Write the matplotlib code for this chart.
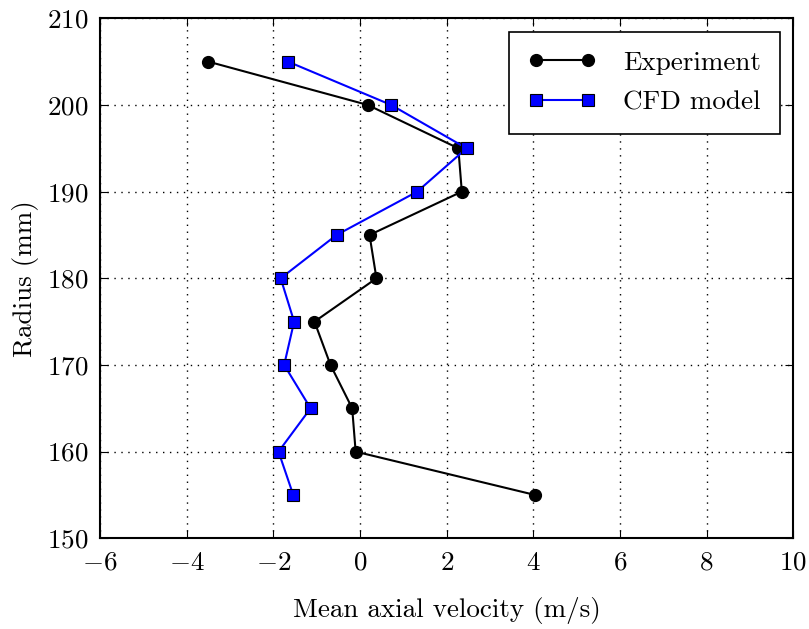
import matplotlib
matplotlib.use("Agg")
import matplotlib.pyplot as plt

plt.rcParams['font.family'] = 'cmr10'
plt.rcParams['mathtext.fontset'] = 'cm'
plt.rcParams['axes.formatter.use_mathtext'] = True

radius = [205, 200, 195, 190, 185, 180, 175, 170, 165, 160, 155]
vel_exp = [-3.5, 0.18, 2.27, 2.35, 0.22, 0.38, -1.05, -0.68, -0.18, -0.1, 4.04]
vel_cfd = [-1.66, 0.72, 2.46, 1.32, -0.54, -1.83, -1.52, -1.75, -1.14, -1.88, -1.54]

fig = plt.figure(figsize=(8.09, 6.29), dpi=100)
ax = fig.add_axes([0.1236, 0.1442, 0.9806 - 0.1236, 0.9709 - 0.1442])

ax.plot(vel_exp, radius, color='black', marker='o', markersize=8.5,
        linewidth=1.5, label='Experiment')
ax.plot(vel_cfd, radius, color='blue', marker='s', markersize=8,
        markerfacecolor='blue', markeredgecolor='black', markeredgewidth=0.8,
        linewidth=1.5, label='CFD model')

ax.set_xlim(-6, 10)
ax.set_ylim(150, 210)
ax.set_xticks(range(-6, 11, 2))
ax.set_yticks(range(150, 211, 10))
ax.grid(True, color='black', linestyle=(0, (1, 4)), linewidth=1.0)
ax.tick_params(direction='in', top=True, right=True, length=6, labelsize=19.5)
ax.tick_params(axis='x', pad=9)
ax.tick_params(axis='y', pad=8)
for s in ax.spines.values():
    s.set_linewidth(1.5)

ax.set_xlabel('Mean axial velocity (m/s)', fontsize=19.5, labelpad=16)
ax.set_ylabel('Radius (mm)', fontsize=19.5, labelpad=6)

leg = ax.legend(loc='upper right', numpoints=2, fontsize=19.5, fancybox=False,
                framealpha=1, edgecolor='black', handlelength=2.5,
                borderpad=0.7, labelspacing=0.6, handletextpad=1.0,
                borderaxespad=0.5)
leg.get_frame().set_linewidth(1.2)

fig.savefig('out.png', dpi=100)
